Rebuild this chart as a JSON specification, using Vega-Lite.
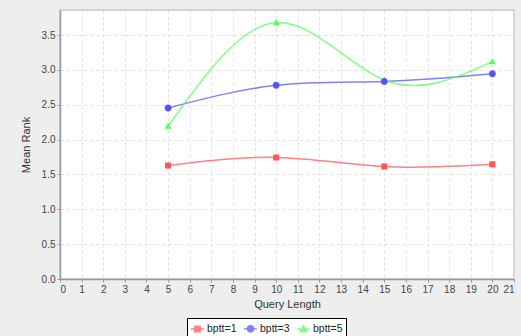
{
  "$schema": "https://vega.github.io/schema/vega-lite/v6.json",
  "autosize": "none",
  "width": 454,
  "height": 269,
  "padding": {"left": 60, "top": 10, "right": 7, "bottom": 57},
  "background": "#eeeeee",
  "config": {
    "font": "Liberation Sans",
    "view": {"fill": "white", "stroke": "#d4d4d4", "strokeWidth": 2},
    "axis": {
      "labelFont": "Liberation Sans", "labelFontSize": 10, "labelColor": "#444444",
      "titleFont": "Liberation Sans", "titleFontSize": 11, "titleFontWeight": "normal", "titleColor": "#333333",
      "domainColor": "#999999", "domainWidth": 1.5, "tickColor": "#999999", "tickSize": 3,
      "gridColor": "#e0e0e0", "gridDash": [3, 3], "gridWidth": 1
    }
  },
  "data": {"values": [
    {"q": 5, "y": 1.63, "s": "bptt=1"},
    {"q": 10, "y": 1.745, "s": "bptt=1"},
    {"q": 15, "y": 1.615, "s": "bptt=1"},
    {"q": 20, "y": 1.645, "s": "bptt=1"},
    {"q": 5, "y": 2.455, "s": "bptt=3"},
    {"q": 10, "y": 2.78, "s": "bptt=3"},
    {"q": 15, "y": 2.835, "s": "bptt=3"},
    {"q": 20, "y": 2.945, "s": "bptt=3"},
    {"q": 5, "y": 2.195, "s": "bptt=5"},
    {"q": 10, "y": 3.68, "s": "bptt=5"},
    {"q": 15, "y": 2.855, "s": "bptt=5"},
    {"q": 20, "y": 3.12, "s": "bptt=5"}
  ]},
  "encoding": {
    "x": {"field": "q", "type": "quantitative", "title": "Query Length",
      "scale": {"domain": [0, 21], "nice": false},
      "axis": {"values": [0,1,2,3,4,5,6,7,8,9,10,11,12,13,14,15,16,17,18,19,20,21], "titlePadding": 4}},
    "y": {"field": "y", "type": "quantitative", "title": "Mean Rank",
      "scale": {"domain": [0, 3.86], "nice": false},
      "axis": {"values": [0, 0.5, 1, 1.5, 2, 2.5, 3, 3.5], "format": ".1f", "titlePadding": 10}},
    "color": {"field": "s", "type": "nominal", "title": null,
      "scale": {"domain": ["bptt=1", "bptt=3", "bptt=5"], "range": ["#ff5555", "#5555ff", "#55ff55"]}}
  },
  "layer": [
    {"mark": {"type": "line", "interpolate": "natural", "strokeWidth": 1.5, "opacity": 0.75}},
    {"mark": {"type": "point", "filled": true, "opacity": 1, "size": 196},
      "encoding": {
        "order": {"field": "s", "sort": "descending"},
        "shape": {"field": "s", "type": "nominal", "title": null,
          "scale": {"domain": ["bptt=1", "bptt=3", "bptt=5"], "range": [
            "M-1,0H1M-0.43,-0.43H0.43V0.43H-0.43Z",
            "M-1,0H1M0.5,0A0.5,0.5,0,1,1,-0.5,0A0.5,0.5,0,1,1,0.5,0Z",
            "M-1,0H1M0,-0.52L0.5,0.4L-0.5,0.4Z"
          ]},
          "legend": {"orient": "none", "legendX": 127, "legendY": 308, "direction": "horizontal",
            "strokeColor": "#000000", "padding": 3, "labelFontSize": 10.5, "labelColor": "#222222",
            "symbolSize": 169, "symbolStrokeWidth": 1.3, "columnPadding": 4, "labelOffset": 2, "fillColor": "white",
            "encode": {"symbols": {"update": {"stroke": {"scale": "color", "field": "value"}, "strokeWidth": {"value": 1.3}}}}}
        }
      }
    }
  ]
}
